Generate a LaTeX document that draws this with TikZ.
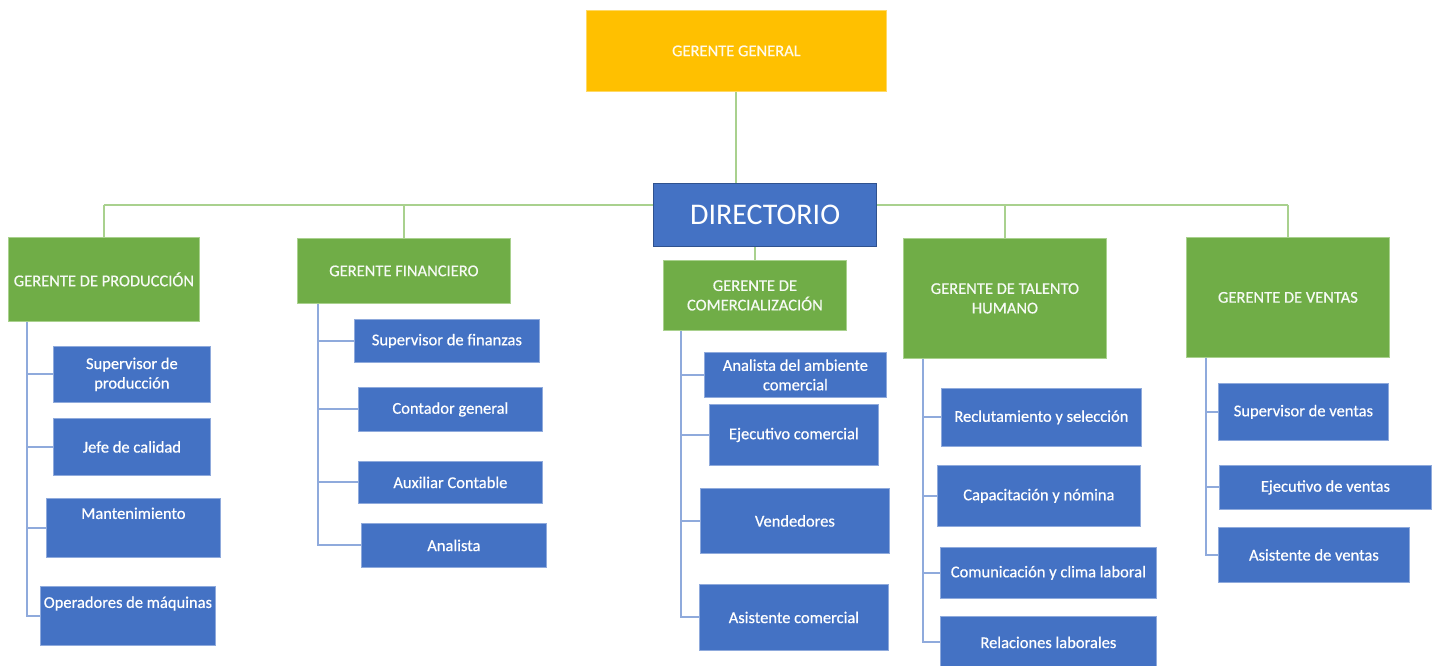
\documentclass[tikz,border=0pt]{standalone}
\usepackage{fontspec}
\setmainfont{Carlito}
\definecolor{gold}{HTML}{FFC000}
\definecolor{mgreen}{HTML}{70AD47}
\definecolor{lgreen}{HTML}{A9D18E}
\definecolor{mblue}{HTML}{4472C4}
\definecolor{lblue}{HTML}{8FAADC}
\definecolor{dblue}{HTML}{2F528F}
\pgfdeclarelayer{bg}
\pgfsetlayers{bg,main}
\newcommand\B[7]{\node[#6, minimum width={(#4-#2)*1pt}, minimum height={(#5-#3)*1pt}, anchor=north west] (#1) at (#2,#3) {#7};}
\tikzset{
  box/.style={inner sep=0pt, align=center, text=white, font=\fontsize{16.5}{19.5}\selectfont\addfontfeature{FakeBold=0.5}},
  topbox/.style={box, fill=gold, draw=gold!60!white, line width=0.8pt, text=white!92!gold},
  dirbox/.style={box, fill=mblue, draw=dblue, line width=1.2pt, font=\fontsize{30}{34}\selectfont},
  mgrbox/.style={box, fill=mgreen, draw=lgreen, line width=0.8pt, text=white!94!mgreen},
  subbox/.style={box, fill=mblue, draw=lblue, line width=0.8pt},
  gline/.style={draw=lgreen, line width=2pt},
  bline/.style={draw=lblue, line width=2pt},
}
\begin{document}
\begin{tikzpicture}[x=1pt,y=-1pt]
\useasboundingbox (0,0) rectangle (1438,666);
% top
\B{gg}{586}{10}{886}{91}{topbox}{GERENTE GENERAL}
\B{dir}{653}{183}{876}{246}{dirbox}{DIRECTORIO}
% managers
\B{gp}{8}{237}{199}{321}{mgrbox}{GERENTE DE PRODUCCIÓN}
\B{gf}{297}{238}{510}{303}{mgrbox}{GERENTE FINANCIERO}
\B{gc}{663}{260}{846}{330}{mgrbox}{GERENTE DE\\COMERCIALIZACIÓN}
\B{gt}{903}{238}{1106}{358}{mgrbox}{GERENTE DE TALENTO\\HUMANO}
\B{gv}{1186}{237}{1389}{357}{mgrbox}{GERENTE DE VENTAS}
% produccion
\B{p1}{53}{346}{210}{402}{subbox}{Supervisor de\\producción}
\B{p2}{53}{418}{210}{475}{subbox}{Jefe de calidad}
\B{p3}{46}{498}{220}{557}{subbox, text height=12pt, text depth=30pt}{Mantenimiento}
\B{p4}{40}{586}{215}{645}{subbox, text height=12pt, text depth=28pt}{Operadores de máquinas}
% financiero
\B{f1}{354}{319}{539}{362}{subbox}{Supervisor de finanzas}
\B{f2}{358}{387}{542}{431}{subbox}{Contador general}
\B{f3}{358}{461}{542}{503}{subbox}{Auxiliar Contable}
\B{f4}{361}{523}{546}{567}{subbox}{Analista}
% comercializacion
\B{c1}{704}{352}{886}{397}{subbox}{Analista del ambiente\\comercial}
\B{c2}{709}{404}{878}{465}{subbox}{Ejecutivo comercial}
\B{c3}{700}{488}{889}{553}{subbox}{Vendedores}
\B{c4}{699}{584}{888}{650}{subbox}{Asistente comercial}
% talento
\B{t1}{941}{388}{1141}{446}{subbox}{Reclutamiento y selección}
\B{t2}{937}{465}{1140}{526}{subbox}{Capacitación y nómina}
\B{t3}{940}{547}{1156}{598}{subbox}{Comunicación y clima laboral}
\B{t4}{940}{616}{1156}{668}{subbox}{Relaciones laborales}
% ventas
\B{v1}{1218}{383}{1388}{440}{subbox}{Supervisor de ventas}
\B{v2}{1219}{465}{1431}{509}{subbox}{Ejecutivo de ventas}
\B{v3}{1218}{527}{1409}{582}{subbox}{Asistente de ventas}
% spine x positions and bus
\coordinate (bus) at (0,205);
\coordinate (sp) at (27,0);
\coordinate (sf) at (318,0);
\coordinate (sc) at (681,0);
\coordinate (st) at (923,0);
\coordinate (sv) at (1206,0);
\begin{pgfonlayer}{bg}
\draw[gline] (gg.south) -- (gg.south |- dir.north);
\draw[gline] (gp.north |- bus) -- (gv.north |- bus);
\foreach \m in {gp,gf,gt,gv} \draw[gline] (\m.north |- bus) -- (\m.north);
\draw[gline] (gc.north |- dir.south) -- (gc.north);
\draw[bline] (sp |- gp.south) |- (p4.west);
\foreach \s in {p1,p2,p3} \draw[bline] (sp |- \s.west) -- (\s.west);
\draw[bline] (sf |- gf.south) |- (f4.west);
\foreach \s in {f1,f2,f3} \draw[bline] (sf |- \s.west) -- (\s.west);
\draw[bline] (sc |- gc.south) |- (c4.west);
\foreach \s in {c1,c2,c3} \draw[bline] (sc |- \s.west) -- (\s.west);
\draw[bline] (st |- gt.south) |- (t4.west);
\foreach \s in {t1,t2,t3} \draw[bline] (st |- \s.west) -- (\s.west);
\draw[bline] (sv |- gv.south) |- (v3.west);
\foreach \s in {v1,v2} \draw[bline] (sv |- \s.west) -- (\s.west);
\end{pgfonlayer}
\end{tikzpicture}
\end{document}
